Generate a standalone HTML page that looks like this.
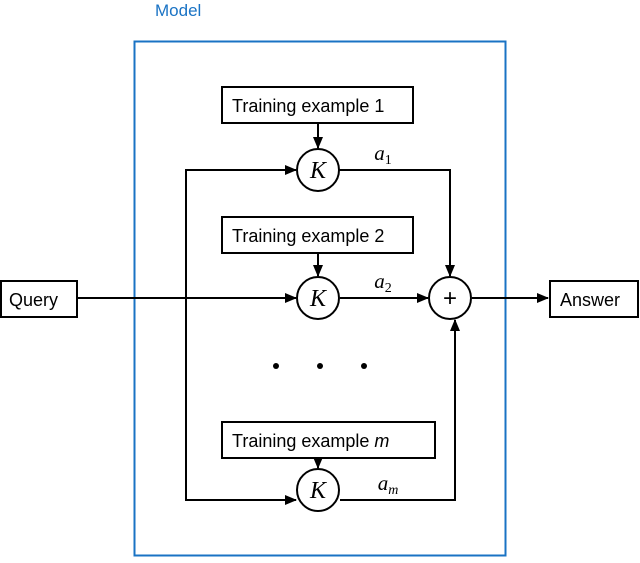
<!DOCTYPE html>
<html><head><style>body{margin:0;background:#fff}</style></head><body>
<svg width="640" height="558" xmlns="http://www.w3.org/2000/svg" font-family="Liberation Sans, sans-serif">
<defs><marker id="a" markerWidth="12" markerHeight="10" refX="11" refY="5" orient="auto" markerUnits="userSpaceOnUse"><path d="M0,0 L12,5 L0,10 z" fill="#000"/></marker></defs>
<text x="155" y="16" fill="#1a73c4" font-size="17">Model</text>
<rect x="134.5" y="41.5" width="371" height="514" fill="none" stroke="#1a73c4" stroke-width="2"/>
<g stroke="#000" stroke-width="2" fill="none">
<rect x="222" y="87" width="191" height="36" fill="#fff"/>
<rect x="222" y="217" width="191" height="36" fill="#fff"/>
<rect x="222" y="422" width="213" height="36" fill="#fff"/>
<rect x="1" y="281" width="76" height="36" fill="#fff"/>
<rect x="550" y="281" width="88" height="36" fill="#fff"/>
<circle cx="318" cy="170" r="21"/><circle cx="318" cy="298" r="21"/><circle cx="318" cy="490" r="21"/><circle cx="450" cy="298" r="21"/>
<line x1="318" y1="123" x2="318" y2="148" marker-end="url(#a)"/>
<line x1="318" y1="253" x2="318" y2="276" marker-end="url(#a)"/>
<line x1="318" y1="458" x2="318" y2="468" marker-end="url(#a)"/>
<line x1="77" y1="298" x2="296" y2="298" marker-end="url(#a)"/>
<polyline points="296,170 186,170 186,500 296,500" marker-end="url(#a)"/>
<line x1="186" y1="170" x2="296" y2="170" marker-end="url(#a)"/>
<polyline points="339,170 450,170 450,276" marker-end="url(#a)"/>
<line x1="340" y1="298" x2="428" y2="298" marker-end="url(#a)"/>
<polyline points="340,500 455,500 455,320" marker-end="url(#a)"/>
<line x1="472" y1="298" x2="548" y2="298" marker-end="url(#a)"/>
</g>
<g font-size="18" fill="#000">
<text x="232" y="112">Training example 1</text>
<text x="232" y="242">Training example 2</text>
<text x="232" y="447">Training example <tspan font-style="italic">m</tspan></text>
<text x="9" y="306">Query</text>
<text x="560" y="306">Answer</text>
</g>
<g font-family="Liberation Serif, serif" font-style="italic" font-size="24" text-anchor="middle">
<text x="318" y="178">K</text><text x="318" y="306">K</text><text x="318" y="498">K</text>
<text x="383" y="160" font-size="21">a<tspan font-size="14" font-style="normal" dy="4">1</tspan></text>
<text x="383" y="288" font-size="21">a<tspan font-size="14" font-style="normal" dy="4">2</tspan></text>
<text x="388" y="490" font-size="21">a<tspan font-size="14" dy="4">m</tspan></text>
</g>
<text x="450" y="306" font-size="24" text-anchor="middle" font-family="Liberation Sans, sans-serif">+</text>
<circle cx="276" cy="366" r="3"/><circle cx="320" cy="366" r="3"/><circle cx="364" cy="366" r="3"/>
</svg>
</body></html>
